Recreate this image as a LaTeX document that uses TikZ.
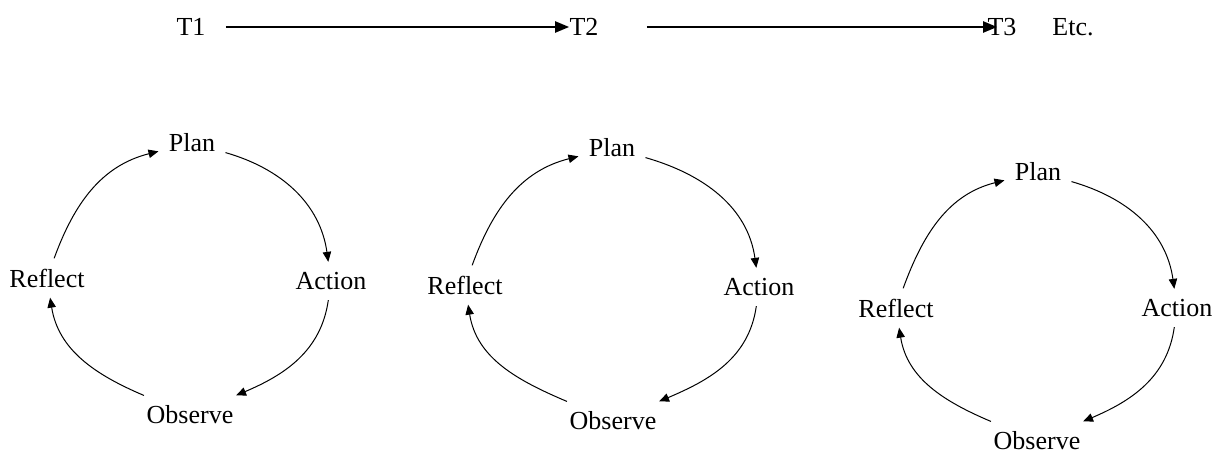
\documentclass[tikz,border=0pt]{standalone}
\usepackage{fontspec}
\setmainfont{Liberation Serif}
\usetikzlibrary{arrows.meta}

\begin{document}
\begin{tikzpicture}[x=0.5pt,y=0.5pt,
  tm/.style={inner sep=0pt,font=\fontsize{13}{15}\selectfont},
  stage/.style={inner sep=5pt,font=\fontsize{13}{15}\selectfont},
  adv/.style={-{Triangle[length=7pt,width=5.5pt]},line width=1.1pt},
  cyc/.style={-{Triangle[length=5pt,width=4.2pt]},line width=0.5pt}]
\useasboundingbox (0,0) rectangle (1221,-454);
% time line
\node[tm] (t1)  at (191,-27)  {T1};
\node[tm] (t2)  at (584,-27)  {T2};
\node[tm] (t3)  at (1002,-27) {T3};
\node[tm] (etc) at (1073,-27) {Etc.};
\draw[adv,shorten <=10pt] (t1) -- (t2);
\draw[adv,shorten <=24pt,shorten >=-5pt] (t2) -- (t3);
% cycle 1
\node[stage] (p1) at (192,-143) {Plan};
\node[stage] (a1) at (331,-281) {Action};
\node[stage] (o1) at (190,-415) {Observe};
\node[stage] (r1) at (47,-278)  {Reflect};
\draw[cyc] (r1) to[out=70,in=194] (p1);
\draw[cyc] (p1) to[out=-16,in=98] (a1);
\draw[cyc] (a1) to[out=-98,in=23] (o1);
\draw[cyc] (o1) to[out=157,in=-81] (r1);
% cycle 2
\node[stage] (p2) at (612,-148) {Plan};
\node[stage] (a2) at (759,-287) {Action};
\node[stage] (o2) at (613,-421) {Observe};
\node[stage] (r2) at (465,-285) {Reflect};
\draw[cyc] (r2) to[out=70,in=194] (p2);
\draw[cyc] (p2) to[out=-16,in=98] (a2);
\draw[cyc] (a2) to[out=-98,in=23] (o2);
\draw[cyc] (o2) to[out=157,in=-81] (r2);
% cycle 3
\node[stage] (p3) at (1038,-172) {Plan};
\node[stage] (a3) at (1177,-308) {Action};
\node[stage] (o3) at (1037,-441) {Observe};
\node[stage] (r3) at (896,-308)  {Reflect};
\draw[cyc] (r3) to[out=70,in=194] (p3);
\draw[cyc] (p3) to[out=-16,in=98] (a3);
\draw[cyc] (a3) to[out=-98,in=23] (o3);
\draw[cyc] (o3) to[out=157,in=-81] (r3);
\end{tikzpicture}
\end{document}
